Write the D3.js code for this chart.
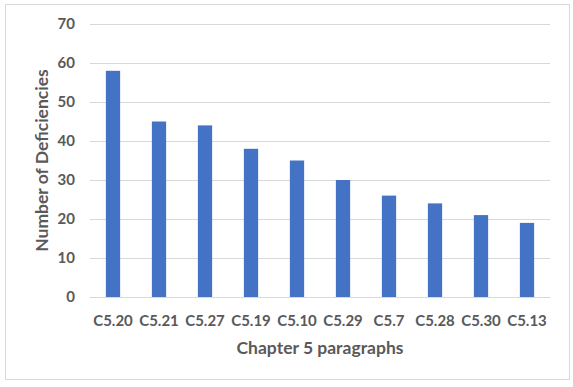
<!DOCTYPE html>
<html>
<head>
<meta charset="utf-8">
<script src="https://cdn.jsdelivr.net/npm/d3@7"></script>
<style>
  body { margin: 0; background: #fff; }
  text { font-family: Lato, "Open Sans", sans-serif; font-weight: bold; fill: #595959; }
</style>
</head>
<body>
<script>
const categories = ["C5.20", "C5.21", "C5.27", "C5.19", "C5.10", "C5.29", "C5.7", "C5.28", "C5.30", "C5.13"];
const values = [58, 45, 44, 38, 35, 30, 26, 24, 21, 19];
const yTicks = [0, 10, 20, 30, 40, 50, 60, 70];

const width = 573;
const height = 387;
const margin = { top: 24, right: 23, bottom: 90, left: 90 };

const svg = d3.select("body").append("svg")
  .attr("width", width)
  .attr("height", height);

svg.append("rect")
  .attr("x", 5.5).attr("y", 4.5)
  .attr("width", 564).attr("height", 375)
  .attr("fill", "#fff")
  .attr("stroke", "#d9d9d9");

const x = d3.scaleBand()
  .domain(categories)
  .range([margin.left, width - margin.right])
  .paddingInner(0.69)
  .paddingOuter(0.345);

const y = d3.scaleLinear()
  .domain([0, 70])
  .range([height - margin.bottom, margin.top]);

// gridlines
svg.append("g")
  .selectAll("line")
  .data(yTicks)
  .join("line")
  .attr("x1", margin.left)
  .attr("x2", width - margin.right)
  .attr("y1", (d) => Math.round(y(d)) + 0.5)
  .attr("y2", (d) => Math.round(y(d)) + 0.5)
  .attr("stroke", "#d9d9d9");

svg.append("g")
  .selectAll("rect")
  .data(values)
  .join("rect")
  .attr("x", (d, i) => x(categories[i]))
  .attr("width", x.bandwidth())
  .attr("y", (d) => y(d))
  .attr("height", (d) => y(0) - y(d))
  .attr("fill", "#4472c4");

const yAxis = svg.append("g")
  .attr("transform", `translate(${margin.left},0)`)
  .call(d3.axisLeft(y).tickValues(yTicks).tickSize(0).tickPadding(15));
yAxis.select(".domain").remove();
yAxis.selectAll("text").attr("font-size", 15).style("font-family", null);

const xAxis = svg.append("g")
  .attr("transform", `translate(0,${height - margin.bottom})`)
  .call(d3.axisBottom(x).tickSize(0).tickPadding(18));
xAxis.select(".domain").remove();
xAxis.selectAll("text").attr("font-size", 15).style("font-family", null);

svg.append("text")
  .attr("x", (margin.left + width - margin.right) / 2)
  .attr("y", 354)
  .attr("text-anchor", "middle")
  .attr("font-size", 17.5)
  .text("Chapter 5 paragraphs");

svg.append("text")
  .attr("transform", `translate(48,${(margin.top + height - margin.bottom) / 2}) rotate(-90)`)
  .attr("text-anchor", "middle")
  .attr("font-size", 17.5)
  .text("Number of Deficiencies");
</script>
</body>
</html>
